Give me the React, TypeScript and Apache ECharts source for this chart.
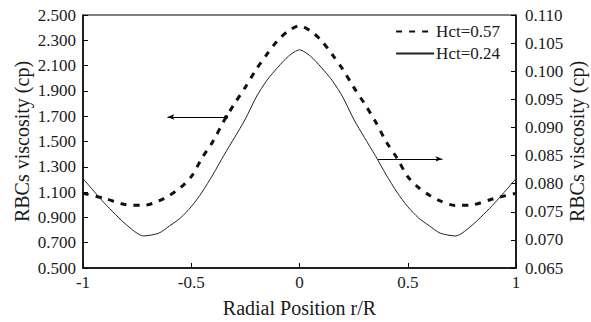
import React, { useEffect, useRef } from "react";
import * as echarts from "echarts";

const xPos = [-1, -0.9, -0.8, -0.72, -0.65, -0.6, -0.55, -0.5, -0.45, -0.4, -0.35, -0.3, -0.25, -0.2, -0.15, -0.1, -0.05, 0,
  0.05, 0.1, 0.15, 0.2, 0.25, 0.3, 0.35, 0.4, 0.45, 0.5, 0.55, 0.6, 0.65, 0.72, 0.8, 0.9, 1];

const hct57 = [1.09, 1.05, 1.0, 0.995, 1.03, 1.075, 1.135, 1.222, 1.37, 1.5, 1.66, 1.8, 1.93, 2.07, 2.19, 2.3, 2.375, 2.415,
  2.375, 2.3, 2.19, 2.07, 1.93, 1.8, 1.66, 1.5, 1.37, 1.222, 1.135, 1.075, 1.03, 0.995, 1.0, 1.05, 1.09];

const hct24 = [0.0809, 0.0765, 0.0727, 0.0707, 0.0712, 0.0725, 0.0739, 0.0759, 0.0785, 0.0816, 0.085, 0.0882, 0.0915, 0.0954, 0.0984, 0.1007, 0.1027, 0.1038,
  0.1027, 0.1007, 0.0984, 0.0954, 0.0915, 0.0882, 0.085, 0.0816, 0.0785, 0.0759, 0.0739, 0.0725, 0.0712, 0.0707, 0.0727, 0.0765, 0.0809];

const leftTicks = [0.5, 0.7, 0.9, 1.1, 1.3, 1.5, 1.7, 1.9, 2.1, 2.3, 2.5];
const rightTicks = [0.065, 0.07, 0.075, 0.08, 0.085, 0.09, 0.095, 0.1, 0.105, 0.11];
const xTicks = [-1, -0.5, 0, 0.5, 1];

const seriesNames = ["Hct=0.57", "Hct=0.24"];
const xName = "Radial Position r/R";
const yName = "RBCs viscosity (cp)";

// arrows: [x start, x end, y (left axis units)]
const arrowLeft = [-0.339, -0.61, 1.694];
const arrowRight = [0.363, 0.66, 1.362];

const FONT = "'Liberation Serif', 'Times New Roman', serif";
const TXT = "#1a1a1a";

export default function App() {
  const ref = useRef<HTMLDivElement>(null);
  useEffect(() => {
    document.body.style.margin = "0";
    const chart = echarts.init(ref.current!, null, { renderer: "svg" });
    const axisLine = { show: true, onZero: false, lineStyle: { color: "#000", width: 1.5 } };
    const axisTick = (vals: number[]) => ({ show: true, inside: true, length: 5, lineStyle: { color: "#000", width: 1 }, customValues: vals });
    const label = { fontFamily: FONT, fontSize: 17, color: TXT };
    const nameStyle = { fontFamily: FONT, fontSize: 20, color: TXT };
    chart.setOption({
      animation: false,
      textStyle: { fontFamily: FONT },
      grid: {
        left: 83, right: 75, top: 15, bottom: 54,
        containLabel: false,
        outerBoundsMode: "none",
        show: true, borderColor: "#000", borderWidth: 1, backgroundColor: "transparent",
      },
      legend: {
        orient: "vertical",
        right: 86,
        top: 18,
        itemWidth: 38,
        itemHeight: 12,
        itemGap: 5,
        itemStyle: { opacity: 0 },
        textStyle: { fontFamily: FONT, fontSize: 17, color: TXT, padding: [0, 0, 0, -3] },
        data: seriesNames,
      },
      xAxis: {
        type: "value",
        min: -1,
        max: 1,
        interval: 0.5,
        name: xName,
        nameLocation: "middle",
        nameGap: 30,
        nameMoveOverlap: false,
        nameTextStyle: nameStyle,
        axisLine,
        axisTick: axisTick(xTicks),
        axisLabel: { ...label, margin: 6, customValues: xTicks },
        splitLine: { show: false },
      },
      yAxis: [
        {
          type: "value",
          min: 0.5,
          max: 2.5,
          position: "left",
          name: yName,
          nameLocation: "middle",
          nameGap: 51,
          nameMoveOverlap: false,
          nameTextStyle: nameStyle,
          axisLine,
          axisTick: axisTick(leftTicks),
          axisLabel: { ...label, margin: 7, customValues: leftTicks, formatter: (v: number) => v.toFixed(3) },
          splitLine: { show: false },
        },
        {
          type: "value",
          min: 0.065,
          max: 0.11,
          position: "right",
          name: yName,
          nameLocation: "middle",
          nameGap: 51,
          nameMoveOverlap: false,
          nameRotate: 90,
          nameTextStyle: nameStyle,
          axisLine,
          axisTick: axisTick(rightTicks),
          axisLabel: { ...label, margin: 9, customValues: rightTicks, formatter: (v: number) => v.toFixed(3) },
          splitLine: { show: false },
        },
      ],
      series: [
        {
          name: seriesNames[0],
          type: "line",
          yAxisIndex: 0,
          data: xPos.map((x, i) => [x, hct57[i]]),
          smooth: 0.3,
          showSymbol: false,
          symbol: "none",
          lineStyle: { color: "#111", width: 3, type: [6, 7] },
          itemStyle: { color: "#111" },
          markLine: {
            silent: true,
            symbol: ["circle", "arrow"],
            symbolSize: [4, 7],
            label: { show: false },
            lineStyle: { color: "#000", width: 1, type: "solid" },
            data: [
              [{ coord: [arrowLeft[0], arrowLeft[2]] }, { coord: [arrowLeft[1], arrowLeft[2]] }],
              [{ coord: [arrowRight[0], arrowRight[2]], symbol: "none" }, { coord: [arrowRight[1], arrowRight[2]] }],
            ],
          },
        },
        {
          name: seriesNames[1],
          type: "line",
          yAxisIndex: 1,
          data: xPos.map((x, i) => [x, hct24[i]]),
          smooth: 0.25,
          showSymbol: false,
          symbol: "none",
          lineStyle: { color: "#222", width: 1 },
          itemStyle: { color: "#222" },
        },
      ],
    });
    return () => chart.dispose();
  }, []);
  return <div ref={ref} style={{ width: 591, height: 322, position: "absolute", left: 0, top: 0 }} />;
}
